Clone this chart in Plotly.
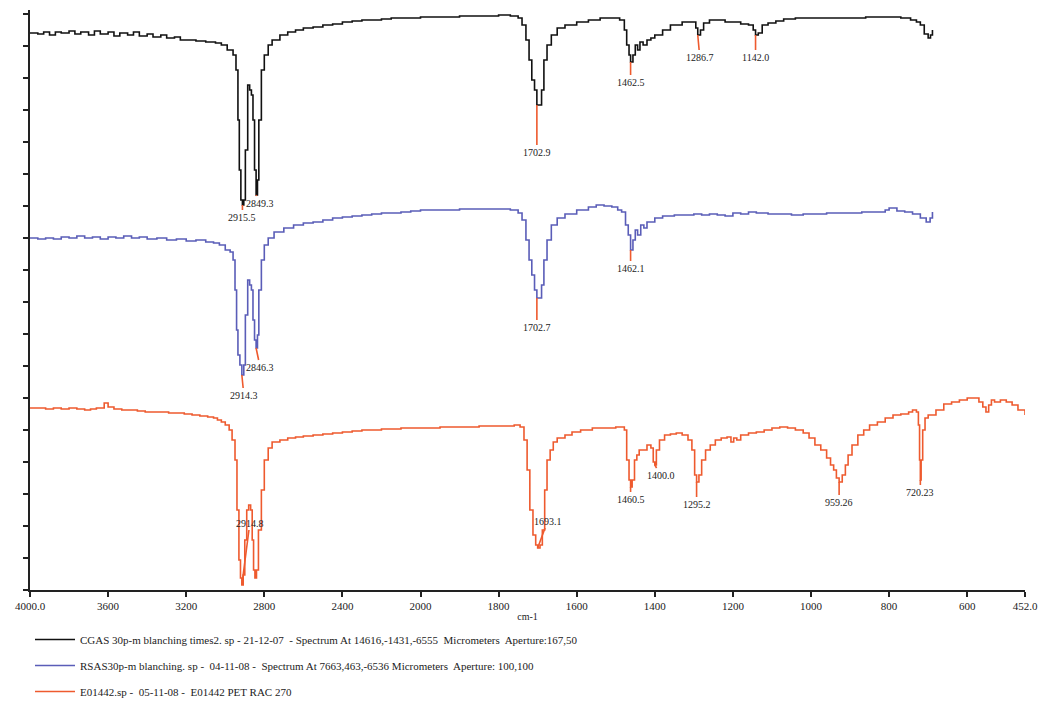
import numpy as np
import plotly.graph_objects as go

# ---------------- data ----------------
black_nu = [4000, 3960, 3930, 3900, 3870, 3840, 3800, 3770, 3740, 3700, 3670, 3640, 3600, 3570, 3540, 3500,
            3470, 3440, 3400, 3370, 3330, 3300, 3260, 3230, 3150, 3100, 3050, 3020, 2990, 2960, 2945, 2935,
            2928, 2920, 2912, 2905, 2897, 2885, 2875, 2866, 2858, 2850, 2842, 2835, 2828, 2815, 2800, 2780,
            2760, 2720, 2680, 2640, 2600, 2550, 2500, 2450, 2400, 2350, 2300, 2250, 2200, 2150, 2100, 2050,
            2000, 1950, 1900, 1850, 1800, 1770, 1750, 1740, 1730, 1722, 1715, 1708, 1702, 1696, 1690, 1684,
            1676, 1665, 1650, 1630, 1600, 1570, 1540, 1510, 1490, 1478, 1472, 1466, 1462, 1456, 1450, 1444,
            1438, 1430, 1420, 1410, 1400, 1380, 1360, 1330, 1310, 1295, 1290, 1283, 1275, 1260, 1240, 1220,
            1200, 1180, 1160, 1148, 1142, 1135, 1125, 1110, 1090, 1070, 1040, 1010, 980, 950, 920, 890, 860,
            830, 800, 770, 745, 730, 720, 710, 700, 694, 689]
black_t = [557, 556, 558, 555, 558, 557, 559, 556, 558, 555, 559, 556, 558, 554, 557, 555,
           558, 554, 556, 553, 555, 552, 553, 550, 549, 548, 547, 545, 540, 535, 520, 470,
           420, 390, 385, 390, 440, 505, 500, 495, 470, 420, 395, 410, 470, 520, 535, 545,
           550, 555, 558, 560, 562, 563, 565, 566, 568, 569, 570, 570, 571, 572, 572, 572,
           573, 573, 574, 574, 575, 574, 572, 565, 550, 530, 510, 500, 485, 485, 500, 530,
           545, 555, 562, 565, 568, 570, 572, 572, 570, 560, 545, 535, 528, 535, 545, 540,
           548, 545, 550, 552, 555, 560, 565, 568, 568, 562, 555, 560, 567, 570, 570, 568,
           568, 566, 565, 560, 555, 557, 565, 567, 569, 571, 572, 572, 572, 572, 572, 572, 573,
           573, 573, 572, 570, 568, 565, 556, 552, 555, 560]

blue_nu = [4000, 3960, 3920, 3880, 3840, 3800, 3760, 3720, 3680, 3640, 3600, 3560, 3520, 3480, 3440, 3400,
           3350, 3300, 3250, 3200, 3150, 3100, 3060, 3030, 3000, 2975, 2960, 2950, 2942, 2935, 2925, 2915,
           2905, 2897, 2885, 2875, 2866, 2858, 2850, 2842, 2835, 2828, 2815, 2800, 2780, 2750, 2700, 2650,
           2600, 2550, 2500, 2450, 2400, 2350, 2300, 2250, 2200, 2150, 2100, 2050, 2000, 1950, 1900, 1850,
           1800, 1770, 1750, 1740, 1730, 1722, 1715, 1708, 1702, 1696, 1690, 1684, 1676, 1665, 1650, 1630,
           1600, 1570, 1550, 1530, 1510, 1495, 1485, 1475, 1468, 1462, 1456, 1450, 1444, 1436, 1428, 1420,
           1400, 1380, 1350, 1320, 1300, 1280, 1260, 1240, 1220, 1200, 1180, 1160, 1140, 1110, 1080, 1050,
           1020, 990, 960, 930, 900, 870, 840, 810, 800, 780, 760, 740, 720, 705, 695, 689]
blue_t = [352, 351, 352, 351, 353, 352, 354, 352, 353, 351, 353, 352, 354, 352, 353, 351,
          352, 350, 351, 349, 350, 348, 347, 345, 340, 338, 330, 300, 260, 235, 225, 215,
          225, 275, 310, 305, 300, 270, 250, 242, 255, 300, 330, 345, 352, 358, 362, 365,
          367, 368, 370, 372, 373, 374, 375, 376, 377, 377, 378, 379, 380, 380, 381, 381,
          381, 380, 377, 370, 350, 330, 315, 300, 292, 292, 305, 330, 350, 365, 372, 376,
          380, 383, 385, 384, 383, 380, 378, 365, 355, 340, 350, 360, 355, 365, 362, 368,
          372, 374, 375, 375, 376, 375, 376, 375, 374, 377, 376, 378, 377, 376, 376, 375,
          376, 376, 377, 377, 377, 378, 378, 380, 382, 379, 378, 376, 372, 368, 372, 378]

red_nu = [4000, 3960, 3920, 3880, 3840, 3800, 3760, 3720, 3690, 3660, 3620, 3600, 3570, 3530, 3490, 3450,
          3410, 3370, 3330, 3290, 3250, 3210, 3170, 3130, 3090, 3060, 3040, 3020, 3000, 2980, 2965, 2950,
          2940, 2930, 2922, 2915, 2908, 2900, 2890, 2880, 2870, 2862, 2855, 2848, 2840, 2830, 2815, 2800,
          2780, 2760, 2720, 2680, 2640, 2600, 2550, 2500, 2450, 2400, 2350, 2300, 2250, 2200, 2150, 2100,
          2050, 2000, 1950, 1900, 1850, 1800, 1760, 1745, 1735, 1727, 1720, 1712, 1705, 1700, 1694, 1688,
          1682, 1676, 1668, 1660, 1650, 1630, 1612, 1590, 1560, 1530, 1500, 1485, 1478, 1472, 1466, 1462,
          1458, 1452, 1446, 1440, 1430, 1420, 1410, 1404, 1400, 1396, 1388, 1375, 1360, 1345, 1330, 1315,
          1305, 1298, 1293, 1287, 1280, 1270, 1258, 1245, 1230, 1215, 1205, 1198, 1190, 1180, 1160, 1140,
          1120, 1100, 1080, 1060, 1040, 1020, 1005, 990, 975, 960, 950, 942, 935, 928, 920, 912, 905, 895,
          880, 865, 850, 830, 810, 790, 770, 750, 740, 730, 725, 722, 720, 718, 714, 708, 700, 680, 660,
          640, 620, 600, 585, 570, 560, 552, 545, 538, 530, 515, 500, 485, 470, 452]
red_t = [182, 182, 181, 182, 181, 182, 181, 180, 181, 182, 187, 183, 181, 180, 180, 179,
         178, 178, 178, 177, 177, 176, 175, 174, 173, 172, 170, 168, 165, 160, 150, 130,
         80, 30, 12, 5, 15, 50, 80, 85, 80, 50, 20, 12, 20, 60, 100, 130,
         142, 148, 150, 152, 153, 154, 155, 156, 157, 158, 159, 160, 160, 161, 161, 162,
         162, 162, 163, 163, 164, 164, 165, 163, 150, 120, 80, 55, 45, 42, 45, 60,
         100, 130, 140, 148, 152, 155, 158, 160, 162, 162, 163, 163, 160, 130, 110, 103,
         110, 130, 135, 140, 140, 145, 142, 128, 125, 140, 150, 155, 156, 157, 155, 150,
         140, 115, 108, 115, 130, 140, 145, 150, 152, 153, 148, 152, 150, 155, 157, 158,
         160, 162, 163, 162, 160, 157, 152, 145, 140, 132, 125, 120, 112, 108, 115, 125, 135, 145,
         155, 160, 165, 168, 172, 175, 176, 178, 180, 178, 165, 130, 110, 130, 160, 172, 175, 180, 186,
         188, 190, 192, 192, 188, 183, 178, 185, 190, 188, 190, 188, 185, 180, 175]

series_names = [
    "CGAS 30p-m blanching times2. sp - 21-12-07  - Spectrum At 14616,-1431,-6555  Micrometers  Aperture:167,50",
    "RSAS30p-m blanching. sp -  04-11-08 -  Spectrum At 7663,463,-6536 Micrometers  Aperture: 100,100",
    "E01442.sp -  05-11-08 -  E01442 PET RAC 270",
]

# peak picks (position in cm-1) and their printed labels
black_peaks = [2912, 2842, 1702, 1462, 1290, 1142]
black_labels = ["2915.5", "2849.3", "1702.9", "1462.5", "1286.7", "1142.0"]
blue_peaks = [2915, 2842, 1702, 1462]
blue_labels = ["2914.3", "2846.3", "1702.7", "1462.1"]
red_peaks = [2915, 1700, 1462, 1400, 1293, 928, 720]
red_labels = ["2914.8", "1693.1", "1460.5", "1400.0", "1295.2", "959.26", "720.23"]

tick_nu = [4000, 3600, 3200, 2800, 2400, 2000, 1800, 1600, 1400, 1200, 1000, 800, 600, 452]
tick_text = ["4000.0", "3600", "3200", "2800", "2400", "2000", "1800", "1600", "1400", "1200",
             "1000", "800", "600", "452.0"]

# ---------------- styles ----------------
colors = ["#111111", "#5a5db8", "#ee5a2e"]
peak_color = "#ee5a2e"
black_off = [(0, 12), (4, 8), (0, 47), (0, 20), (2, 22), (0, 22)]
blue_off = [(2, 20), (4, 19), (0, 29), (0, 18)]
red_off = [(8, -62), (10, -27), (0, 12), (6, 10), (0, 22), (0, 20), (0, 12)]

SERIF = "Liberation Serif"
W, H = 1040, 696  # page body has an 8px margin


def xt(nu):
    nu = np.asarray(nu, dtype=float)
    return np.where(nu >= 2000, 4000 - nu, 2000 + 2 * (2000 - nu))


fig = go.Figure()
for nu, t, name, col in [(black_nu, black_t, series_names[0], colors[0]),
                         (blue_nu, blue_t, series_names[1], colors[1]),
                         (red_nu, red_t, series_names[2], colors[2])]:
    fig.add_trace(go.Scatter(x=xt(nu), y=t, mode="lines", name=name,
                             line=dict(color=col, width=1.6, shape="hv"),
                             legendgroup=name))

annotations = []
for nu, t, peaks, labels, offs in [(black_nu, black_t, black_peaks, black_labels, black_off),
                                   (blue_nu, blue_t, blue_peaks, blue_labels, blue_off),
                                   (red_nu, red_t, red_peaks, red_labels, red_off)]:
    nu_a = np.array(nu)
    t_a = np.array(t)
    for p, lab, (ax, ay) in zip(peaks, labels, offs):
        mask = np.abs(nu_a - p) <= 6
        yv = t_a[mask].min()
        annotations.append(dict(x=float(xt(p)), y=float(yv), text=lab, showarrow=True,
                                arrowhead=0, arrowwidth=1.6, arrowcolor=peak_color,
                                ax=ax, ay=ay, standoff=0, startstandoff=0,
                                font=dict(family=SERIF, size=10, color="#222")))

fig.update_layout(
    width=W, height=H,
    margin=dict(l=22, r=23, t=2, b=114, autoexpand=False),
    paper_bgcolor="white", plot_bgcolor="white",
    annotations=annotations,
    showlegend=True,
    legend=dict(x=0.0, y=(H - 617) / H, xref="paper", yref="container",
                xanchor="left", yanchor="top",
                orientation="v", tracegroupgap=7, itemwidth=40,
                font=dict(family=SERIF, size=11, color="#222"),
                bgcolor="rgba(0,0,0,0)"),
)
fig.update_xaxes(range=[0, float(xt(452))], tickvals=xt(tick_nu), ticktext=tick_text,
                 automargin=False,
                 showgrid=False, zeroline=False, showline=True, linecolor="#222", linewidth=1.5,
                 ticks="outside", ticklen=5, tickcolor="#222", tickwidth=1.5,
                 tickfont=dict(family=SERIF, size=11, color="#222"),
                 title=dict(text="cm-1", font=dict(family=SERIF, size=10, color="#222"), standoff=2))
fig.update_yaxes(range=[0, 580], tick0=0, dtick=32, showticklabels=False, automargin=False,
                 showgrid=False, zeroline=False, showline=True, linecolor="#222", linewidth=1.5,
                 ticks="outside", ticklen=5, tickcolor="#222", tickwidth=1.5)

fig.write_html("out.html")
